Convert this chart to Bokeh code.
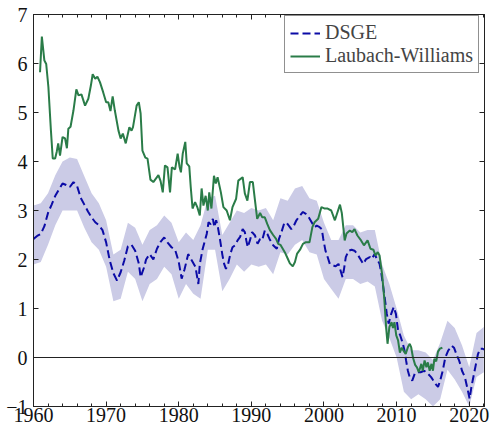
from bokeh.plotting import figure
from bokeh.models import (Range1d, LinearAxis, SingleIntervalTicker, Span,
                          Legend, LegendItem, CustomJSTickFormatter, ColumnDataSource)
from bokeh.embed import file_html
from bokeh.resources import INLINE

# DSGE estimate of the natural rate (posterior median), percent
dsge_year = [1960.0, 1960.5, 1961.0, 1961.5, 1962.0, 1962.5, 1963.0, 1963.5, 1964.0, 1964.5,
             1965.0, 1965.5, 1966.0, 1966.5, 1967.0, 1967.5, 1968.0, 1968.5, 1969.0, 1969.5,
             1970.0, 1970.5, 1971.0, 1971.5, 1972.0, 1972.5, 1973.0, 1973.5, 1974.0, 1974.5,
             1974.75, 1975.25, 1975.5, 1976.0, 1976.5, 1977.0, 1977.5, 1978.0, 1978.5, 1979.0,
             1979.5, 1980.0, 1980.4, 1980.8, 1981.3, 1981.8, 1982.3, 1982.7, 1982.9, 1983.3,
             1983.85, 1984.1, 1984.4, 1984.7, 1984.9, 1985.15, 1985.4, 1985.7, 1986.0, 1986.25,
             1986.5, 1986.8, 1987.1, 1987.4, 1987.75, 1988.1, 1988.45, 1988.8, 1989.1, 1989.3,
             1989.5, 1989.8, 1990.1, 1990.5, 1990.85, 1991.2, 1991.5, 1991.85, 1992.2, 1992.5,
             1993.0, 1993.5, 1993.8, 1994.15, 1994.5, 1994.8, 1995.15, 1995.5, 1995.85, 1996.2,
             1996.7, 1997.1, 1997.5, 1997.9, 1998.3, 1998.7, 1999.0, 1999.4, 1999.7, 1999.9,
             2000.2, 2000.5, 2000.8, 2001.25, 2001.6, 2002.0, 2002.55, 2002.75, 2003.0, 2003.4,
             2003.8, 2004.2, 2004.6, 2005.0, 2005.4, 2005.8, 2006.3, 2006.6, 2006.95, 2007.3,
             2007.65, 2007.9, 2008.1, 2008.35, 2008.65, 2008.9, 2009.25, 2009.6, 2009.9, 2010.2,
             2010.5, 2010.8, 2011.1, 2011.3, 2011.55, 2011.8, 2012.15, 2012.5, 2012.8, 2013.3,
             2013.8, 2014.3, 2014.75, 2015.35, 2015.7, 2016.0, 2016.35, 2016.7, 2017.1, 2017.6,
             2017.9, 2018.3, 2018.6, 2018.8, 2019.0, 2019.4, 2019.7, 2020.05, 2020.3, 2020.5,
             2020.9, 2021.2, 2021.5, 2021.8, 2022.1]
dsge_median = [2.42, 2.48, 2.52, 2.68, 2.95, 3.12, 3.30, 3.43, 3.55, 3.52,
               3.48, 3.58, 3.50, 3.26, 3.12, 2.98, 2.86, 2.76, 2.70, 2.60,
               2.35, 1.98, 1.72, 1.57, 1.74, 1.98, 2.27, 2.30, 2.18, 1.92,
               1.64, 1.85, 2.00, 2.11, 2.00, 2.22, 2.36, 2.45, 2.34, 2.25,
               2.20, 1.95, 1.61, 1.80, 2.11, 1.98, 1.85, 1.50, 1.91, 2.22,
               2.52, 2.76, 2.72, 2.83, 2.66, 2.80, 2.65, 2.39, 2.10, 1.91,
               1.81, 1.91, 2.11, 2.25, 2.29, 2.39, 2.46, 2.62, 2.56, 2.39,
               2.25, 2.39, 2.56, 2.49, 2.32, 2.42, 2.40, 2.59, 2.52, 2.42,
               2.29, 2.22, 2.42, 2.56, 2.73, 2.76, 2.69, 2.62, 2.69, 2.80,
               2.90, 2.97, 2.93, 2.86, 2.76, 2.66, 2.69, 2.66, 2.62, 2.42,
               2.18, 2.05, 1.91, 1.88, 1.86, 1.91, 1.64, 1.80, 2.05, 2.18,
               2.20, 2.18, 2.11, 2.01, 1.91, 2.01, 2.05, 2.01, 2.11, 2.01,
               1.91, 1.71, 1.50, 1.23, 0.89, 0.69, 0.89, 1.03, 0.89, 0.55,
               0.45, 0.31, 0.14, -0.06, -0.27, -0.40, -0.47, -0.33, -0.30, -0.30,
               -0.27, -0.33, -0.40, -0.54, -0.60, -0.47, -0.27, 0.00, 0.14, 0.24,
               0.20, 0.04, -0.06, -0.15, -0.27, -0.40, -0.60, -0.84, -0.60, -0.45,
               -0.15, 0.07, 0.18, 0.18, 0.16]

# DSGE credible band (annual)
band_year = list(range(1960, 2023))
band_lo = [1.90, 1.95, 2.30, 2.70, 3.00, 3.00, 3.00, 2.65, 2.35, 2.20,
           1.85, 1.15, 1.20, 1.75, 1.60, 1.15, 1.50, 1.60, 1.85, 1.70,
           1.20, 1.50, 1.30, 1.20, 2.20, 2.20, 1.35, 1.60, 1.90, 1.75,
           1.90, 1.85, 1.90, 1.70, 2.15, 2.10, 2.30, 2.40, 2.15, 2.10,
           1.60, 1.40, 1.20, 1.60, 1.60, 1.50, 1.55, 1.45, 0.75, 0.40,
           0.00, -0.70, -0.85, -0.75, -0.85, -1.00, -0.85, -0.25, -0.45, -0.70,
           -1.00, -0.40, -0.30]
band_hi = [3.10, 3.15, 3.35, 3.72, 4.00, 4.08, 4.05, 3.70, 3.35, 3.15,
           2.80, 2.10, 2.20, 2.75, 2.65, 2.30, 2.60, 2.70, 2.90, 2.75,
           2.35, 2.55, 2.40, 2.70, 3.25, 3.30, 2.50, 2.75, 3.00, 2.95,
           3.05, 3.00, 3.05, 2.80, 3.25, 3.20, 3.45, 3.50, 3.25, 3.20,
           2.75, 2.40, 2.40, 2.70, 2.70, 2.55, 2.60, 2.60, 1.90, 1.50,
           1.00, 0.45, 0.15, 0.15, 0.10, -0.05, 0.30, 0.75, 0.60, 0.25,
           -0.20, 0.50, 0.62]

# Laubach-Williams estimate of the natural rate, percent
lw_year = [1960.9, 1961.15, 1961.5, 1961.75, 1962.05, 1962.4, 1962.65, 1962.98, 1963.2, 1963.4,
           1963.65, 1964.0, 1964.35, 1964.6, 1964.8, 1965.1, 1965.5, 1965.9, 1966.2, 1966.6,
           1967.1, 1967.55, 1967.9, 1968.15, 1968.5, 1968.8, 1969.15, 1969.6, 1970.0, 1970.3,
           1970.6, 1970.9, 1971.2, 1971.7, 1972.0, 1972.3, 1972.7, 1973.2, 1973.5, 1973.7,
           1974.2, 1974.5, 1974.75, 1975.0, 1975.4, 1975.7, 1976.1, 1976.5, 1977.2, 1977.5,
           1977.8, 1978.1, 1978.45, 1978.8, 1979.05, 1979.5, 1979.85, 1980.1, 1980.3, 1980.55,
           1980.9, 1981.1, 1981.45, 1981.65, 1981.9, 1982.25, 1982.55, 1982.9, 1983.15, 1983.4,
           1983.7, 1984.0, 1984.2, 1984.5, 1984.85, 1985.1, 1985.35, 1985.8, 1986.15, 1986.6,
           1987.05, 1987.4, 1987.9, 1988.2, 1988.8, 1989.1, 1989.45, 1989.8, 1990.2, 1990.5,
           1990.8, 1991.2, 1991.5, 1991.85, 1992.2, 1992.55, 1993.0, 1993.4, 1993.7, 1994.0,
           1994.6, 1995.0, 1995.3, 1995.7, 1996.0, 1996.3, 1996.7, 1997.1, 1997.45, 1998.0,
           1998.4, 1998.7, 1999.2, 1999.65, 2000.1, 2000.5, 2001.0, 2001.5, 2001.8, 2002.2,
           2002.45, 2002.85, 2003.1, 2003.55, 2003.9, 2004.2, 2004.6, 2005.1, 2005.5, 2006.0,
           2006.4, 2006.8, 2007.1, 2007.4, 2007.65, 2008.0, 2008.3, 2008.55, 2008.75, 2009.0,
           2009.3, 2009.5, 2009.7, 2009.95, 2010.2, 2010.45, 2010.7, 2010.95, 2011.25, 2011.55,
           2011.8, 2012.0, 2012.25, 2012.55, 2012.8, 2013.05, 2013.4, 2013.6, 2013.85, 2014.1,
           2014.3, 2014.55, 2014.8, 2015.0, 2015.2, 2015.45, 2015.7, 2015.95, 2016.3]
lw_rate = [5.82, 6.55, 6.06, 5.99, 5.52, 4.63, 4.06, 4.06, 4.20, 4.37,
           4.12, 4.50, 4.47, 4.27, 4.67, 4.71, 5.04, 5.47, 5.35, 5.37,
           5.14, 5.28, 5.55, 5.78, 5.69, 5.73, 5.62, 5.41, 5.21, 5.21,
           5.03, 5.33, 5.04, 4.63, 4.47, 4.57, 4.37, 4.70, 4.63, 4.70,
           5.14, 5.21, 4.98, 4.22, 4.08, 4.06, 3.63, 3.58, 3.72, 3.60,
           3.37, 3.92, 3.88, 3.37, 3.88, 3.84, 4.16, 3.90, 3.78, 4.16,
           4.40, 3.96, 3.90, 3.48, 3.04, 3.17, 3.07, 2.90, 3.45, 3.10,
           3.30, 3.00, 3.37, 3.04, 3.71, 3.55, 3.68, 3.37, 3.07, 3.00,
           2.80, 3.07, 3.24, 3.61, 3.68, 3.35, 3.20, 3.58, 3.58, 3.20,
           2.83, 2.95, 2.86, 2.86, 2.72, 2.60, 2.50, 2.42, 2.32, 2.30,
           2.15, 2.02, 1.92, 1.86, 1.95, 2.12, 2.20, 2.32, 2.35, 2.35,
           2.66, 2.76, 2.83, 3.07, 3.04, 3.04, 3.00, 2.80, 2.94, 3.12,
           2.95, 2.39, 2.53, 2.59, 2.56, 2.62, 2.49, 2.39, 2.29, 2.39,
           2.22, 2.20, 2.08, 2.15, 2.08, 1.70, 1.20, 0.62, 0.28, 0.62,
           0.72, 0.60, 0.72, 0.45, 0.35, 0.10, 0.20, 0.14, 0.07, 0.21,
           0.28, 0.21, 0.00, -0.15, -0.20, -0.30, -0.13, -0.27, -0.06, -0.20,
           -0.10, -0.27, -0.13, -0.27, -0.03, -0.08, 0.12, 0.18, 0.20]

x_ticks_interval = 10
y_ticks_interval = 1

SERIF = "Liberation Serif"
BLUE = "#0b0ba6"
GREEN = "#2a7c48"
BAND = "#cbcbe6"

p = figure(width=491, height=429, output_backend="svg", toolbar_location=None,
           x_range=Range1d(1960, 2022.1), y_range=Range1d(-1, 7),
           min_border_left=33, min_border_right=7, min_border_top=14, min_border_bottom=23,
           x_axis_location=None, y_axis_location=None)
p.xgrid.visible = False
p.ygrid.visible = False
p.outline_line_color = "#222222"
p.outline_line_width = 1
p.background_fill_color = "white"
p.border_fill_color = "white"

band_src = ColumnDataSource(dict(x=band_year, lo=band_lo, hi=band_hi))
p.varea(x="x", y1="lo", y2="hi", source=band_src, fill_color=BAND, fill_alpha=1.0)

p.add_layout(Span(location=0, dimension="width", line_color="#222222", line_width=1))

dsge_r = p.line(dsge_year, dsge_median, line_color=BLUE, line_width=2, line_dash="8 4")
lw_r = p.line(lw_year, lw_rate, line_color=GREEN, line_width=2)


def style_axis(ax, ticker, labels=True, minor=True):
    ax.ticker = ticker
    ax.axis_line_color = "#222222"
    ax.major_tick_line_color = "#222222"
    ax.minor_tick_line_color = "#222222" if minor else None
    ax.major_tick_in = 5
    ax.major_tick_out = 0
    ax.minor_tick_in = 3
    ax.minor_tick_out = 0
    if labels:
        ax.major_label_text_font = SERIF
        ax.major_label_text_font_size = "20px"
        ax.major_label_text_color = "#111111"
    else:
        ax.formatter = CustomJSTickFormatter(code="return ''")
        ax.major_label_text_font_size = "0px"
        ax.major_label_standoff = 0


xb = LinearAxis()
style_axis(xb, SingleIntervalTicker(interval=x_ticks_interval, num_minor_ticks=5))
xb.major_label_standoff = 1
p.add_layout(xb, "below")

xt = LinearAxis()
style_axis(xt, SingleIntervalTicker(interval=x_ticks_interval, num_minor_ticks=5), labels=False)
p.add_layout(xt, "above")

yl = LinearAxis()
style_axis(yl, SingleIntervalTicker(interval=y_ticks_interval, num_minor_ticks=0), minor=False)
yl.major_label_standoff = 6
p.add_layout(yl, "left")

yr = LinearAxis()
style_axis(yr, SingleIntervalTicker(interval=y_ticks_interval, num_minor_ticks=0), labels=False, minor=False)
p.add_layout(yr, "right")

legend = Legend(items=[LegendItem(label="DSGE", renderers=[dsge_r]),
                       LegendItem(label="Laubach-Williams", renderers=[lw_r])],
                location=(251, 333), margin=0, padding=5, spacing=0,
                label_text_font=SERIF, label_text_font_size="20px",
                label_height=20, glyph_height=20, glyph_width=30, label_standoff=5,
                border_line_color="#222222", border_line_width=1,
                background_fill_color="white", background_fill_alpha=1.0)
p.add_layout(legend, "center")

open("out.html", "w").write(file_html(p, INLINE))
